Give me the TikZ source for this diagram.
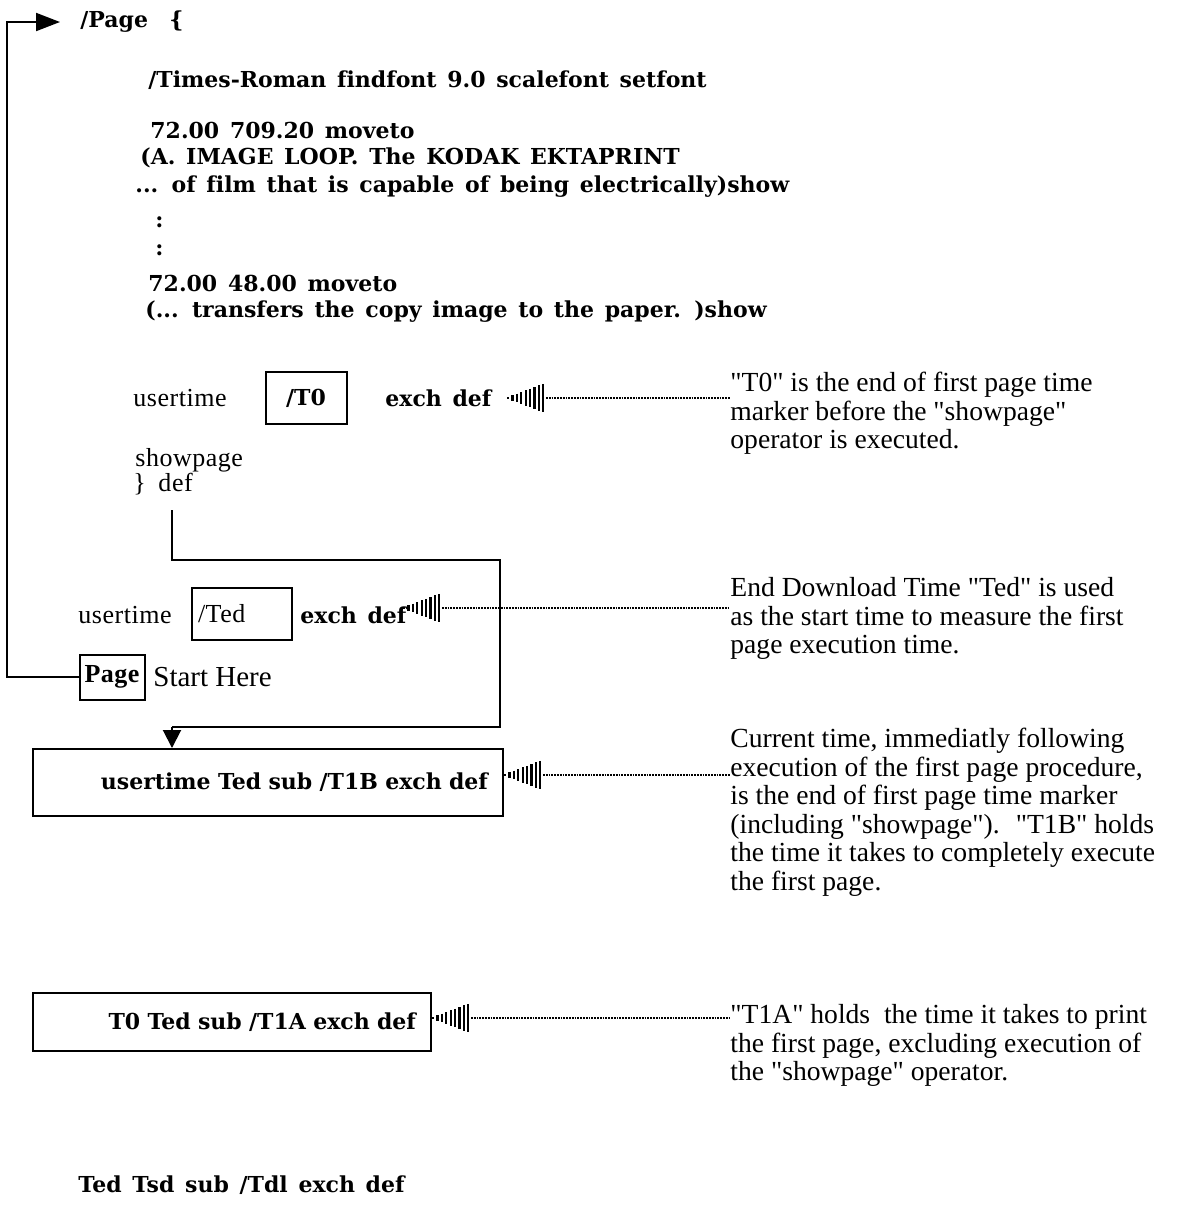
\documentclass[tikz,border=0pt]{standalone}
\usepackage{fontspec}
\setmainfont{Liberation Serif}
\newfontfamily\notefont{Liberation Serif}
\newfontfamily\codefont[LetterSpace=2.0,WordSpace=1.8]{Liberation Serif}
\newfontfamily\codebold[WordSpace=1.4,Ligatures=NoCommon]{DejaVu Serif}
\usetikzlibrary{arrows.meta,calc}
\tikzset{code/.style={font=\codebold\bfseries\fontsize{11}{13}\selectfont, anchor=west, inner sep=0pt},
         plain/.style={font=\codefont\fontsize{13}{15}\selectfont, anchor=west, inner sep=0pt},
         note/.style={font=\notefont\fontsize{13.8}{14.25}\selectfont, align=left, anchor=north west, inner sep=0pt},
         boxed/.style={draw, line width=1pt, inner sep=0pt},
         loopline/.style={line width=1pt},
         hatchbar/.style={line width=1.1pt},
         dotline/.style={line width=1.3pt, dash pattern=on 0.9pt off 0.5pt}}
\newcommand{\hatchtip}[1]{%
  \foreach \i in {0,...,8}
    \draw[hatchbar] ($(#1)+(\i*4.4,-1-\i*1.65)$) -- ++(0,2+\i*3.3);}

\begin{document}
\begin{tikzpicture}[x=0.5pt,y=-0.5pt]
\useasboundingbox (0,0) rectangle (1186,1217);
% Page procedure:
\node[code] (pagedef) at (80,22) {/Page~~\{};
\node[code] (findfont) at (148,80) {/Times-Roman findfont 9.0 scalefont setfont};
\node[code] (moveA) at (150,130) {72.00 709.20 moveto};
\node[code] (loopA) at (140,158) {(A. IMAGE LOOP. The KODAK EKTAPRINT};
\node[code] (film) at (135,187) {... of film that is capable of being electrically)show};
\node[code] (dotsA) at (155,222) {:};
\node[code] (dotsB) at (155,250) {:};
\node[code] (moveB) at (148,283) {72.00 48.00 moveto};
\node[code] (transfer) at (145,312) {(... transfers the copy image to the paper. )show};
% T0 marker:
\node[plain] (utA) at (133,398) {usertime};
\node[boxed, code, anchor=center, minimum width=40.5pt, minimum height=26pt] (tzero) at (306,398) {/T0};
\node[code] (exchA) at (385,398) {exch def};
\coordinate (hatchA) at (508,398);
\hatchtip{hatchA}
\coordinate (hatchAend) at ($(hatchA)+(38,0)$);
\node[note] (noteA) at (730,372) {"T0" is the end of first page time\\marker before the "showpage"\\operator is executed.};
\draw[dotline] (hatchAend) -- (hatchAend -| noteA.west);
\node[plain] (showpage) at (135,460) {showpage};
\node[plain] (enddef) at (133,484) {\} def};
% Ted marker:
\node[plain] (utB) at (78,615) {usertime};
\node[boxed, plain, anchor=center, minimum width=49.5pt, minimum height=26pt, text width=44pt, inner xsep=3pt] (ted) at (242,614) {/Ted};
\node[code] (exchB) at (300,615) {exch def};
\coordinate (hatchB) at (404,608);
\hatchtip{hatchB}
\coordinate (hatchBend) at ($(hatchB)+(38,0)$);
\node[note] (noteB) at (730,577) {End Download Time "Ted" is used\\as the start time to measure the first\\page execution time.};
\draw[dotline] (hatchBend) -- (hatchBend -| noteB.west);
% Start box and loop back to /Page:
\node[boxed, plain, font=\codefont\bfseries\fontsize{13}{15}\selectfont, anchor=center, minimum width=32.5pt, minimum height=22.5pt] (pagebox) at (112,677) {Page};
\node[font=\notefont\fontsize{14.5}{15}\selectfont, anchor=west, inner sep=0pt] (start) at (153,677) {Start Here};
\draw[loopline, -{Triangle[length=12pt, width=9pt]}] (pagebox.west) -- ++(-72,0) |- ([xshift=-10pt]pagedef.west);
% T1B box:
\node[boxed, code, anchor=north west, text width=220pt, align=right, inner xsep=7.5pt, minimum height=33.5pt] (tonebee) at (32,748) {usertime Ted sub /T1B exch def};
\coordinate (loopstart) at (172,510);
\coordinate (loopout) at (500,560);
\draw[loopline] (loopstart) |- (loopout) |- (loopstart |- 0,727) coordinate (loopin);
\draw[loopline, -{Triangle[length=9pt, width=9pt]}] (loopin) -- (loopin |- tonebee.north);
\coordinate (hatchC) at (505,775);
\hatchtip{hatchC}
\coordinate (hatchCend) at ($(hatchC)+(38,0)$);
\node[note] (noteC) at (730,728) {Current time, immediatly following\\execution of the first page procedure,\\is the end of first page time marker\\(including "showpage").~ "T1B" holds\\the time it takes to completely execute\\the first page.};
\draw[dotline] (hatchCend) -- (hatchCend -| noteC.west);
% T1A box:
\node[boxed, code, anchor=north west, text width=184pt, align=right, inner xsep=7.5pt, minimum height=29pt] (toneay) at (32,992) {T0 Ted sub /T1A exch def};
\coordinate (hatchD) at (433,1018);
\hatchtip{hatchD}
\coordinate (hatchDend) at ($(hatchD)+(38,0)$);
\node[note] (noteD) at (730,1004) {"T1A" holds~ the time it takes to print\\the first page, excluding execution of\\the "showpage" operator.};
\draw[dotline] (hatchDend) -- (hatchDend -| noteD.west);
% Tdl:
\node[code] (tdl) at (78,1185) {Ted Tsd sub /Tdl exch def};
\end{tikzpicture}
\end{document}
